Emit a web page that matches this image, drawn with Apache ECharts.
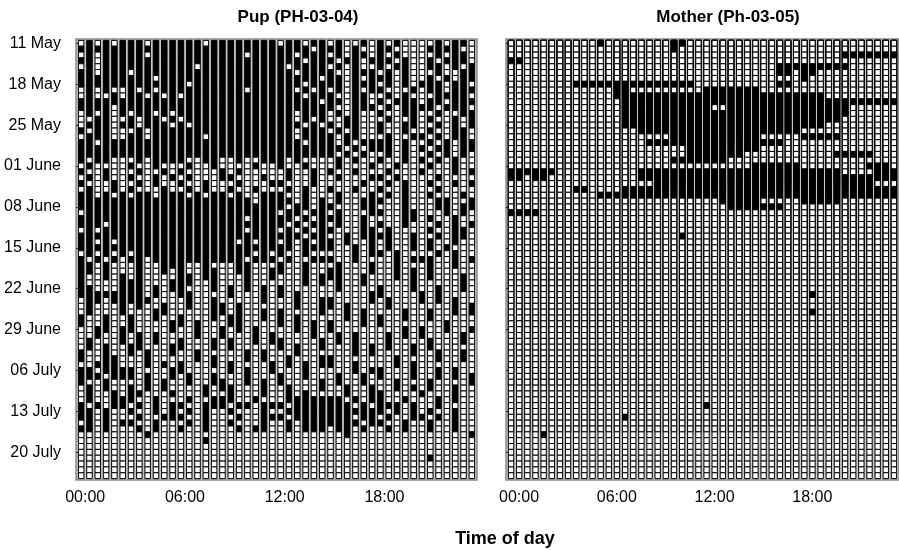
<!DOCTYPE html>
<html>
<head>
<meta charset="utf-8">
<script src="https://cdn.jsdelivr.net/npm/echarts@6/dist/echarts.min.js"></script>
<style>
  html, body { margin: 0; padding: 0; background: #fff; }
  #chart { width: 899px; height: 550px; }
</style>
</head>
<body>
<div id="chart"></div>
<script>
// Activity rasters: one row per day starting 11 May, 48 half-hour slots per row.
// '#' = active slot, '.' = inactive; spaces only group the slots in 3-hour blocks.
const hourTicks = [0, 12, 24, 36];
const hourLabels = ['00:00', '06:00', '12:00', '18:00'];
const dayTicks = [0, 7, 14, 21, 28, 35, 42, 49, 56, 63, 70];
const dayLabels = ['11 May', '18 May', '25 May', '01 June', '08 June', '15 June',
                   '22 June', '29 June', '06 July', '13 July', '20 July'];

const pupRows = [
  '.#.#.# ##.### ###.## ###### .##.## .#..#. #.#... .#.##.',
  '###### ###### ###### ###### ####.# ##.#.. ##.... ####..',
  '.#.### ##.### ###### ##.### ##.### .#.##. #.#... .#.##.',
  '##.### ###### ###### ###### ###.## #.##.# ##.#.. #.###.',
  '.#.### ###### ##.### ###### #.#### .#.#.. #.##.. ##.#.#',
  '##.### .##### ###### ###### ##.### #..### .#.#.. .#..##',
  '###### ###.## ###### ###### #####. ##.#.# ##.#.. #.#.##',
  '###### ###### #.#### ###### ###.## ##.### .#.#.# ##.##.',
  '.#.#.. #.#.## ###### ##.### ##.#.# .#.#.# #...#. ##.###',
  '.#..#. ##.#.# .##### ###### ###.## #..##. .#.#.. .####.',
  '###### ###### ###### ###### #####. ##.##. #.###. ##.###',
  '####.# ###### ###### ###### ###### #..### .#.### #.###.',
  '.#.#.# .##.#. ###### ###### ##.### .#.#.. #..##. .#..##',
  '..##.. #.##.# .##### ###### ##.#.# ..##.. .#..#. #..#.#',
  '.###.# #.###. #.#### ###### ###.#. #.##.. #..##. .#.#.#',
  '#.##.. .#.### ###### ###### ##.### .#.#.. #..#.. #..##.',
  '.###.. ##.### ###.## ###### ##.### #.##.. .#..## .#.##.',
  '##.### ###### ###### ###### ###.## #.#.## ##.#.. #.#.##',
  '###### ###### ###### ###### ###### ##.#.# ##.#.# .##.##',
  '###### ###### ###### ###### ###### #.#.#. .#.#.. #.#.#.',
  '#.##.. .#.### #..##. .#..## #.#... .#.#.. #..#.# .#.#..',
  '.#.... #..#.. .#..#. ...#.. #..#.. .#...# ..#... #..#..',
  '#..#.. .#..#. #....# .#.... .#..#. #..#.. .#...# ...#.#',
  '.#.#.. #..#.# .#...# #...#. .#..#. .#...# #.#... .#....',
  '#...#. .#.#.. #..#.. .#...# #...#. ....#. .#.#.. #..#.#',
  '.#..#. #...#. .#.#.. #..#.. .#.#.. #..#.. #..#.. .#....',
  '##.#.# .##.## #.#.## .#..## #..#.. .#...# .#.#.. #...#.',
  '###### ###### ###### ###.## ##.#.# .#..## #..#.. .##..#',
  '###### ###### ###### ###### #.##.# #...## ...#.. .##.##',
  '.##### ###### ###### ###### .##.## .#...# #..##. ..#.#.',
  '###### ###### ###### ##.### ##.#.# ##..#. ...##. #..#..',
  '###.## ###### ###### ###### #.#.## .#..#. #..#.. .#.#.#',
  '.#.### ###### ###### ##.### .#.#.# #...## .#.... #..##.',
  '###### ###### ###### ###### ###.## ..#.## ##..#. .#.##.',
  '##.#.# ###### ###### #.#.## .#.#.# #.#..# .#..#. #..#..',
  '###### ###### ###### ###### ##.### #..#.# .#..#. #.#...',
  '.#.#.# .##### ###### ###.#. #..#.. ...#.# #.#... .#.#..',
  '#.#.#. ##.### ###### ##.### .#..## #..#.. ..#.## #..#.#',
  '##.#.. .#..## #..#.. .##... #..#.. .#...# ..#... #..#..',
  '##.#.. .#..#. #..##. .##..# #..#.. ##...# ..#.#. #.....',
  '#..#.# .#.... ##.##. ..#..# ...#.# ##..#. ..#.#. #...#.',
  '#....# ##...# ##..#. ..#... ...#.# .#..#. ....#. ....#.',
  '##...# ##.#.# #...#. #.#.#. #..... .#.... #...#. .#..#.',
  '###### ##.#.. ##.... #...#. #.#... .....# #....# .#....',
  '.##.## ###... .#..#. ....#. ..#..# #....# .#...# .#.#..',
  '.#...# .#..#. .#..## .#.... ..#..# #.#... .#.... ...#.#',
  '.#...# ...##. ....## .#..#. #....# ..#.#. ...#.. #..#.#',
  '#..#.. #..#.. #...#. ##..#. #.#... ..#.#. #..#.. #.....',
  '#..#.. #....# #.#... ##.... #.#.#. #...#. #..... ..#...',
  '..##.# #....# ..#..# .#.#.. ..#.#. #..... ...#.# ..#..#',
  '..#..# .#.#.. ..#..# ...#.# ....#. .#.#.. .#.#.# ....#.',
  '.#...# .#.#.. #...#. #..#.# #....# .#.#.. .#.... #...#.',
  '.#.#.. ##...# #...#. #..... #.#..# ...#.# .#..#. #.....',
  '#..#.. #.#..# ..#... ..#.#. ..#... ...#.# ....#. .#..#.',
  '#..##. ..#... ..#.#. ..#.#. .#...# #..... ..#... .#..#.',
  '..###. ..#.#. #...#. #....# .#.#.# #..#.. ..#.#. ......',
  '##.### #....# #..... #.#..# ...#.. ...#.# #...#. .#.#..',
  '###.## #.#..# .#..#. ..#... #..#.. .#..#. #...#. .#.#.#',
  '#..#.. ..#.#. .#..## ..#.#. #....# .#..#. ..#... #....#',
  '.#.#.. #.#.#. ...#.# #...#. .#...# ..#..# ..#.#. #..#..',
  '.#..#. ##...# ...#.. #...#. .#.#.. ..#..# #....# ...#..',
  '.#..## #..#.. .#..## #..#.. .##### ##.#.# #..#.. .#.#..',
  '#.#.## .#.#.# #..### .##.## #.#### ###.#. ###.#. .#....',
  '##.#.. #..#.# .#.#.. #...#. .##### ###### #.#.#. #..#..',
  '##.#.. .#..## #..#.. .#..## #.#### ###.## .#..## .#.#..',
  '.#.#.# #..#.. .#.#.. #...#. .#.### ####.# #..#.. #..#..',
  '##.#.. .#.#.. #..#.. .#.##. .#.### .##.#. .#.#.. #..#..',
  '...... ..#... ...... ...... ...... ..#... ...... .....#',
  '...... ...... ...#.. ...... ...... ...... ...... ......',
  '...... ...... ...... ...... ...... ...... ...... ......',
  '...... ...... ...... ...... ...... ...... ...... ......',
  '...... ...... ...... ...... ...... ...... ...... #.....',
  '...... ...... ...... ...... ...... ...... ...... ......',
  '...... ...... ...... ...... ...... ...... ...... ......',
  '...... ...... ...... ...... ...... ...... ...... ......'
];

const motherRows = [
  '...... .....# ...... ..##.. ...... ...... ...... ......',
  '...... ...... ...... ..#... ...... ...... ...... ......',
  '...... ...... ...... ...... ...... ...... .....# ######',
  '##.... ...... ...... ...... ...... ...... ...... ......',
  '...... ...... ...... ...... ...... ...### ###### ......',
  '...... ...... ...... ...... ...... ...##. ##.... ......',
  '...... ...... ...... ...... ...... ...... #..... ......',
  '...... ..#### ###### #####. ...... ...##. ...... ......',
  '...... ...... .##... ...... ###### #..... ...... ......',
  '...... ...... .##### ###### ###### ###### ###... ......',
  '...... ...... ..#### ###### ###### ###### ###### ######',
  '...... ...... ..#### ###### #..### ###### ###### ......',
  '...... ...... ..#### ###### ###### ###### ###### ......',
  '...... ...... ..#### ###### ###### ###### #####. ......',
  '...... ...... ..#### ###### ###### ###### ###... ......',
  '...... ...... ....## ###### ###### ###### ...... ......',
  '...... ...... ...... ..#### ###### #..... #####. ......',
  '...... ...... .....# ###### ###### ####.. ...... ......',
  '...... ...... ...... ....## ###### #..... ...... ......',
  '...... ...... ...... ....## #####. ...... ....## ###...',
  '...... ...... ...... ..#### ###... ...... ...... ......',
  '...... ...... ...... ...... ...... ###### ...... ..###.',
  '###### ...... ....## ###### ###### ###### #####. ...###',
  '##.##. ...... ....## ###### ###### ###### ###### ######',
  '...... ...... ...... ###### ###### ###### ###### ###...',
  '...... ..##.. ..#### ###### ###### ###### ###### ######',
  '...... .....# ###### ###### ###### ###### ###### ######',
  '...... ...... ...... ...... ..#### #..... #####. ......',
  '...... ...... ...... ...... ...### ####.. ...... ......',
  '####.. ...... ...... ...... ...... ...... ...... ......',
  '...... ...... ...... ...... ...... ...... ...... ......',
  '...... ...... ...... ...... ...... ...... ...... ......',
  '...... ...... ...... ...... ...... ...... ...... ......',
  '...... ...... ...... ...#.. ...... ...... ...... ......',
  '...... ...... ...... ...... ...... ...... ...... ......',
  '...... ...... ...... ...... ...... ...... ...... ......',
  '...... ...... ...... ...... ...... ...... ...... ......',
  '...... ...... ...... ...... ...... ...... ...... ......',
  '...... ...... ...... ...... ...... ...... ...... ......',
  '...... ...... ...... ...... ...... ...... ...... ......',
  '...... ...... ...... ...... ...... ...... ...... ......',
  '...... ...... ...... ...... ...... ...... ...... ......',
  '...... ...... ...... ...... ...... ...... ...... ......',
  '...... ...... ...... ...... ...... ...... .#.... ......',
  '...... ...... ...... ...... ...... ...... ...... ......',
  '...... ...... ...... ...... ...... ...... ...... ......',
  '...... ...... ...... ...... ...... ...... .#.... ......',
  '...... ...... ...... ...... ...... ...... ...... ......',
  '...... ...... ...... ...... ...... ...... ...... ......',
  '...... ...... ...... ...... ...... ...... ...... ......',
  '...... ...... ...... ...... ...... ...... ...... ......',
  '...... ...... ...... ...... ...... ...... ...... ......',
  '...... ...... ...... ...... ...... ...... ...... ......',
  '...... ...... ...... ...... ...... ...... ...... ......',
  '...... ...... ...... ...... ...... ...... ...... ......',
  '...... ...... ...... ...... ...... ...... ...... ......',
  '...... ...... ...... ...... ...... ...... ...... ......',
  '...... ...... ...... ...... ...... ...... ...... ......',
  '...... ...... ...... ...... ...... ...... ...... ......',
  '...... ...... ...... ...... ...... ...... ...... ......',
  '...... ...... ...... ...... ...... ...... ...... ......',
  '...... ...... ...... ...... ...... ...... ...... ......',
  '...... ...... ...... ...... #..... ...... ...... ......',
  '...... ...... ...... ...... ...... ...... ...... ......',
  '...... ...... ..#... ...... ...... ...... ...... ......',
  '...... ...... ...... ...... ...... ...... ...... ......',
  '...... ...... ...... ...... ...... ...... ...... ......',
  '....#. ...... ...... ...... ...... ...... ...... ......',
  '...... ...... ...... ...... ...... ...... ...... ......',
  '...... ...... ...... ...... ...... ...... ...... ......',
  '...... ...... ...... ...... ...... ...... ...... ......',
  '...... ...... ...... ...... ...... ...... ...... ......',
  '...... ...... ...... ...... ...... ...... ...... ......',
  '...... ...... ...... ...... ...... ...... ...... ......',
  '...... ...... ...... ...... ...... ...... ...... ......'
];

const SLOTS = 48;

function toCells(rows) {
  const out = [];
  rows.forEach(function (row, r) {
    const s = row.replace(/ /g, '');
    for (let c = 0; c < SLOTS; c++) {
      out.push([c, r, s.charAt(c) === '#' ? 1 : 0]);
    }
  });
  return out;
}

// Each slot is an outlined box; active slots are filled black.
function renderCell(params, api) {
  const c = api.value(0), r = api.value(1), on = api.value(2);
  const a = api.coord([c - 0.5, r - 0.5]);
  const b = api.coord([c + 0.5, r + 0.5]);
  const w = b[0] - a[0];
  const h = b[1] - a[1];
  const inset = 1.4;
  return {
    type: 'rect',
    shape: { x: a[0] + inset, y: a[1], width: w - 2 * inset, height: h },
    style: { fill: on ? '#000' : '#fff', stroke: '#000', lineWidth: 1 }
  };
}

const FONT = 'Liberation Sans, Arial, Helvetica, sans-serif';

function xAxisFor(idx, shift) {
  return {
    type: 'value', gridIndex: idx, min: -0.62, max: 47.62,
    axisLine: { show: false },
    splitLine: { show: false },
    axisTick: { show: true, customValues: hourTicks, length: 5, lineStyle: { color: '#222', width: 1 } },
    axisLabel: {
      customValues: hourTicks, margin: 10, fontSize: 16, color: '#000', fontFamily: FONT,
      padding: [0, 0, 0, shift * 2],
      formatter: function (v) { return hourLabels[hourTicks.indexOf(v)]; }
    }
  };
}

function yAxisFor(idx, withLabels) {
  return {
    type: 'value', gridIndex: idx, inverse: true, min: -0.74, max: 74.74,
    axisLine: { show: false },
    splitLine: { show: false },
    axisTick: { show: true, customValues: dayTicks, length: 5, lineStyle: { color: '#222', width: 1 } },
    axisLabel: {
      show: withLabels, customValues: dayTicks, margin: 15, fontSize: 16, color: '#000', fontFamily: FONT,
      formatter: function (v) { return dayLabels[dayTicks.indexOf(v)]; }
    }
  };
}

const gridStyle = { show: true, backgroundColor: '#c6c6c6', borderColor: '#8c8c8c', borderWidth: 1.5 };

const chart = echarts.init(document.getElementById('chart'), null, { renderer: 'canvas' });
chart.setOption({
  animation: false,
  backgroundColor: '#fff',
  grid: [
    Object.assign({ left: 76, top: 39, width: 401, height: 441 }, gridStyle),
    Object.assign({ left: 506, top: 39, width: 401, height: 441 }, gridStyle)
  ],
  xAxis: [xAxisFor(0, 4), xAxisFor(1, 8)],
  yAxis: [yAxisFor(0, true), yAxisFor(1, false)],
  series: [
    { type: 'custom', xAxisIndex: 0, yAxisIndex: 0, renderItem: renderCell, data: toCells(pupRows), silent: true },
    { type: 'custom', xAxisIndex: 1, yAxisIndex: 1, renderItem: renderCell, data: toCells(motherRows), silent: true }
  ],
  graphic: [
    { type: 'text', x: 298, y: 9, style: { text: 'Pup (PH-03-04)', font: 'bold 17px ' + FONT, fill: '#000', textAlign: 'center' } },
    { type: 'text', x: 728, y: 9, style: { text: 'Mother (Ph-03-05)', font: 'bold 17px ' + FONT, fill: '#000', textAlign: 'center' } },
    { type: 'text', x: 505, y: 530, style: { text: 'Time of day', font: 'bold 18px ' + FONT, fill: '#000', textAlign: 'center' } }
  ]
});
</script>
</body>
</html>
